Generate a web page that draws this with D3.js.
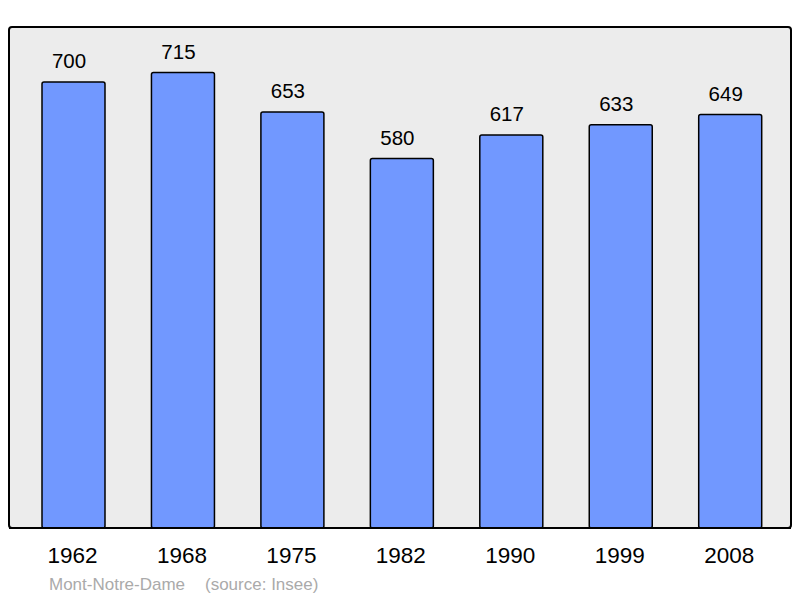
<!DOCTYPE html>
<html><head><meta charset="utf-8">
<script src="https://cdn.jsdelivr.net/npm/d3@7"></script>
<style>body{margin:0;background:#fff}svg{display:block}</style>
</head><body>
<script>
const years = ["1962","1968","1975","1982","1990","1999","2008"];
const population = [700,715,653,580,617,633,649];
const town = "Mont-Notre-Dame";
const source = "(source: Insee)";

const W = 800, H = 598;
const svg = d3.select("body").append("svg").attr("width", W).attr("height", H);
const frame = {x0: 9, y0: 27, x1: 791, y1: 528};
const font = "Liberation Sans, Arial, sans-serif";

svg.append("rect").attr("x", frame.x0).attr("y", frame.y0)
  .attr("width", frame.x1 - frame.x0).attr("height", frame.y1 - frame.y0)
  .attr("rx", 3).attr("fill", "#ececec").attr("stroke", "#000").attr("stroke-width", 2);

const x = d3.scaleBand().domain(years).range([42, 761.7]).paddingInner(0.4244).paddingOuter(0);
const y = d3.scaleLinear().domain([0, d3.max(population) * 1.1]).range([frame.y1, frame.y0]);

svg.selectAll("rect.bar").data(years).join("rect").attr("class", "bar")
  .attr("x", d => x(d)).attr("y", (d, i) => y(population[i]))
  .attr("width", x.bandwidth()).attr("height", (d, i) => frame.y1 - y(population[i]))
  .attr("rx", 2).attr("fill", "#7198ff").attr("stroke", "#000").attr("stroke-width", 1.5);

svg.selectAll("text.val").data(years).join("text").attr("class", "val")
  .attr("x", d => x(d) + x.bandwidth() / 2 - 4.5).attr("y", (d, i) => y(population[i]) - 14)
  .attr("text-anchor", "middle").attr("font-family", font)
  .attr("font-size", 20.5).attr("fill", "#000").text((d, i) => population[i]);

svg.append("line").attr("x1", frame.x0).attr("x2", frame.x1).attr("y1", frame.y1).attr("y2", frame.y1)
  .attr("stroke", "#000").attr("stroke-width", 2);

const xAxis = d3.axisBottom(x).tickSize(0).tickPadding(0);
const ax = svg.append("g").attr("transform", `translate(0,${frame.y1})`).call(xAxis);
ax.select(".domain").remove();
ax.selectAll("text").attr("font-family", font)
  .attr("font-size", 22.5).attr("fill", "#000").attr("dy", null).attr("y", 35).attr("x", -1);

svg.append("text").attr("x", 49).attr("y", 590).attr("font-family", font)
  .attr("font-size", 17).attr("fill", "#aaaaaa").text(town);
svg.append("text").attr("x", 205).attr("y", 590).attr("font-family", font)
  .attr("font-size", 17).attr("fill", "#aaaaaa").text(source);
</script>
</body></html>
